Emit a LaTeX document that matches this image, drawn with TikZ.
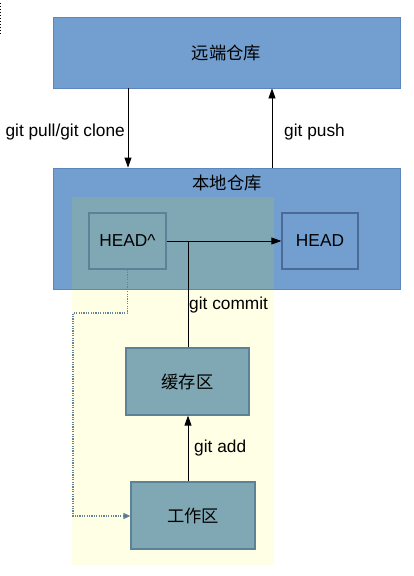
\documentclass[tikz,border=0pt]{standalone}
\usepackage{fontspec}
\setmainfont{Liberation Sans}
\newfontfamily\cjk{Noto Sans CJK SC}
\usetikzlibrary{arrows.meta}
\definecolor{blueboxfill}{RGB}{114,159,207}
\definecolor{blueboxdraw}{RGB}{92,134,190}
\definecolor{tealfill}{RGB}{128,168,180}
\definecolor{tealdraw}{RGB}{92,130,152}
\definecolor{yellowbg}{RGB}{255,255,230}
\definecolor{dotcol}{RGB}{100,130,152}
\definecolor{dottip}{RGB}{74,115,160}
\tikzset{
  lbl/.style={font=\fontsize{17.3}{20}\selectfont, inner sep=0pt},
  cjklbl/.style={font=\cjk\fontsize{17.3}{20}\selectfont, inner sep=0pt},
  bigbox/.style={draw=blueboxdraw, fill=blueboxfill, line width=0.8pt, inner sep=0pt},
  headbox/.style={draw=blueboxdraw!80!black, fill=blueboxfill, line width=1.2pt, inner sep=0pt, minimum width=76pt, minimum height=56pt, font=\fontsize{17.3}{20}\selectfont},
  tealbox/.style={draw=tealdraw, fill=tealfill, line width=1.2pt, inner sep=0pt, font=\cjk\fontsize{17.3}{20}\selectfont},
  arr/.style={-{Triangle[length=10pt,width=7pt]}, line width=0.8pt, black},
  dotarr/.style={dash pattern=on 1.2pt off 1.2pt, line width=1.2pt, draw=dotcol, -{Triangle[length=7pt,width=6pt,fill=dottip]}},
}
\begin{document}
\begin{tikzpicture}[x=1pt,y=-1pt]
\useasboundingbox (0,0) rectangle (414,576);
\fill[white] (0,0) rectangle (414,576);
\draw[dotted, line width=1pt] (0.8,3) -- (0.8,35);
% remote
\node[bigbox, minimum width=347pt, minimum height=71pt] (remote) at (226.5,52.5) {};
\node[cjklbl] (remotelbl) at (226.5,52.5) {远端仓库};
% yellow area
\fill[yellowbg] (72,197) rectangle (274,565);
% local
\node[bigbox, minimum width=347pt, minimum height=121pt] (local) at (226.5,228.5) {};
\fill[tealfill] (72,197) rectangle (274,288.5);
\node[cjklbl] (locallbl) at (227,183) {本地仓库};
% inner boxes
\node[tealbox, minimum width=77pt, minimum height=56pt, font=\fontsize{17.3}{20}\selectfont] (headp) at (127.5,241) {HEAD\^{}};
\node[headbox] (head) at (320,241) {HEAD};
\node[tealbox, minimum width=123pt, minimum height=67pt] (cache) at (187.5,381.5) {缓存区};
\node[tealbox, minimum width=124pt, minimum height=67pt] (work) at (193,515.5) {工作区};
% connectors
\coordinate (pullx) at (128,0);
\coordinate (pushx) at (272,0);
\draw[arr] (remote.south -| pullx) -- (local.north -| pullx);
\draw[arr] (local.north -| pushx) -- (remote.south -| pushx);
\node[lbl, anchor=east] (pulllbl) at (125,132) {git pull/git clone};
\node[lbl, anchor=west] (pushlbl) at (284,132) {git push};
\draw[arr] (headp.east) -- (head.west);
\coordinate (jc) at (188,241);
\draw[line width=0.8pt] (jc) -- (jc |- cache.north);
\node[lbl, anchor=west] (commitlbl) at (189,305) {git commit};
\coordinate (addx) at (188,0);
\draw[arr] (work.north -| addx) -- (cache.south -| addx);
\node[lbl, anchor=west] (addlbl) at (194,448) {git add};
\coordinate (d1) at (127.5,313);
\coordinate (d2) at (73,313);
\coordinate (d3) at (73,516);
\draw[dotarr] (headp.south) -- (d1) -- (d2) -- (d3) -- (work.west |- d3);
\end{tikzpicture}
\end{document}
